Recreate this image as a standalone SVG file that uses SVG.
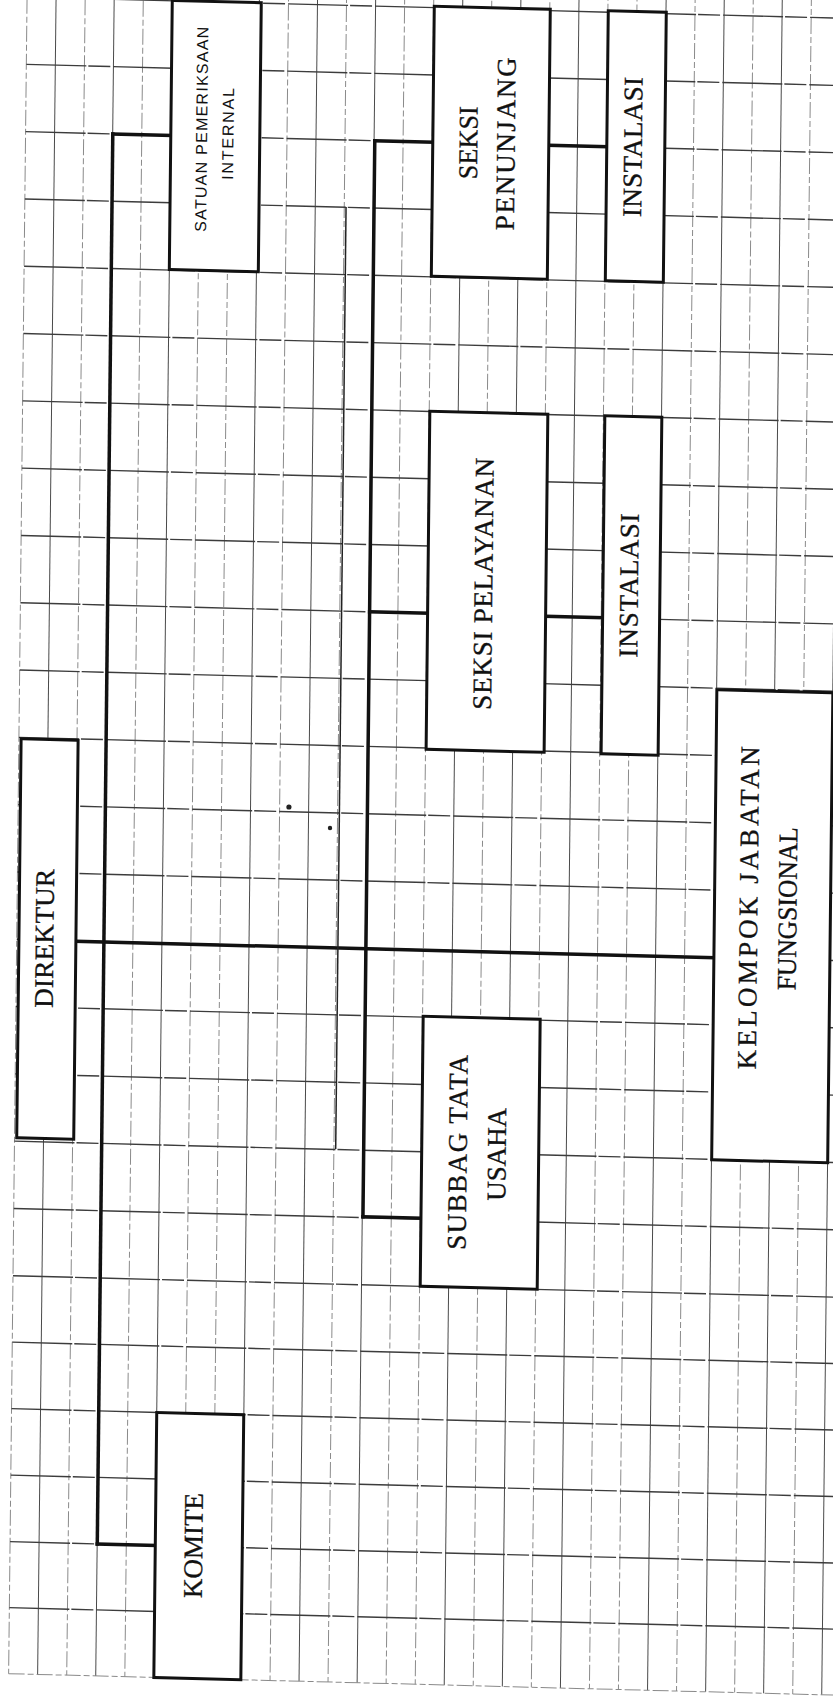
<svg xmlns="http://www.w3.org/2000/svg" width="833" height="1700" viewBox="0 0 833 1700">
<style>
.gs{stroke:#4a4a4a;stroke-width:1;fill:none}
.gd{stroke:#8a8a8a;stroke-width:1;stroke-dasharray:16 3 6 3;fill:none}
.gh{stroke:#3c3c3c;stroke-width:1.4;stroke-dasharray:60 2 22 3;fill:none}
.box{fill:#ffffff;stroke:#111;stroke-width:3}
.con{stroke:#111;stroke-width:3.5;fill:none;stroke-linecap:square}
.thin{stroke:#222;stroke-width:1.5;fill:none}
.lbl{font-family:"Liberation Serif","Times New Roman",serif;font-size:27px;fill:#111;stroke:#111;stroke-width:0.3;text-anchor:middle}
.lbs{font-family:"Liberation Sans",Arial,sans-serif;font-size:16px;fill:#111;text-anchor:middle}
</style>
<rect x="0" y="0" width="833" height="1700" fill="#ffffff"/>
<g transform="matrix(1,0.026,-0.011,1,9.35,-10.8)">
<g id="grid">
<g id="grid-v">
<line class="gd" x1="17.8" y1="-20" x2="17.8" y2="1684"/>
<line class="gs" x1="46.8" y1="-20" x2="46.8" y2="1684"/>
<line class="gd" x1="75.9" y1="-20" x2="75.9" y2="1684"/>
<line class="gs" x1="104.9" y1="-20" x2="104.9" y2="1684"/>
<line class="gd" x1="134" y1="-20" x2="134" y2="1684"/>
<line class="gs" x1="163" y1="-20" x2="163" y2="1684"/>
<line class="gd" x1="192" y1="-20" x2="192" y2="1684"/>
<line class="gd" x1="221.1" y1="-20" x2="221.1" y2="1684"/>
<line class="gs" x1="250.1" y1="-20" x2="250.1" y2="1684"/>
<line class="gd" x1="279.2" y1="-20" x2="279.2" y2="1684"/>
<line class="gs" x1="308.2" y1="-20" x2="308.2" y2="1684"/>
<line class="gd" x1="337.2" y1="-20" x2="337.2" y2="1684"/>
<line class="gs" x1="366.3" y1="-20" x2="366.3" y2="1684"/>
<line class="gd" x1="395.3" y1="-20" x2="395.3" y2="1684"/>
<line class="gd" x1="424.4" y1="-20" x2="424.4" y2="1684"/>
<line class="gs" x1="453.4" y1="-20" x2="453.4" y2="1684"/>
<line class="gd" x1="482.4" y1="-20" x2="482.4" y2="1684"/>
<line class="gs" x1="511.5" y1="-20" x2="511.5" y2="1684"/>
<line class="gd" x1="540.5" y1="-20" x2="540.5" y2="1684"/>
<line class="gs" x1="569.6" y1="-20" x2="569.6" y2="1684"/>
<line class="gd" x1="598.6" y1="-20" x2="598.6" y2="1684"/>
<line class="gd" x1="627.6" y1="-20" x2="627.6" y2="1684"/>
<line class="gs" x1="656.7" y1="-20" x2="656.7" y2="1684"/>
<line class="gd" x1="685.7" y1="-20" x2="685.7" y2="1684"/>
<line class="gs" x1="714.8" y1="-20" x2="714.8" y2="1684"/>
<line class="gd" x1="743.8" y1="-20" x2="743.8" y2="1684"/>
<line class="gs" x1="772.8" y1="-20" x2="772.8" y2="1684"/>
<line class="gd" x1="801.9" y1="-20" x2="801.9" y2="1684"/>
<line class="gs" x1="830.9" y1="-20" x2="830.9" y2="1684"/>
</g>
<g id="grid-h">
<line class="gh" x1="17.8" y1="7.4" x2="850" y2="7.4"/>
<line class="gh" x1="17.8" y1="74.7" x2="850" y2="74.7"/>
<line class="gh" x1="17.8" y1="142" x2="850" y2="142"/>
<line class="gh" x1="17.8" y1="209.3" x2="850" y2="209.3"/>
<line class="gh" x1="17.8" y1="276.6" x2="850" y2="276.6"/>
<line class="gh" x1="17.8" y1="343.9" x2="850" y2="343.9"/>
<line class="gh" x1="17.8" y1="411.2" x2="850" y2="411.2"/>
<line class="gh" x1="17.8" y1="478.5" x2="850" y2="478.5"/>
<line class="gh" x1="17.8" y1="545.8" x2="850" y2="545.8"/>
<line class="gh" x1="17.8" y1="613.1" x2="850" y2="613.1"/>
<line class="gh" x1="17.8" y1="680.4" x2="850" y2="680.4"/>
<line class="gh" x1="17.8" y1="747.7" x2="850" y2="747.7"/>
<line class="gh" x1="17.8" y1="815" x2="850" y2="815"/>
<line class="gh" x1="17.8" y1="882.3" x2="850" y2="882.3"/>
<line class="gh" x1="17.8" y1="949.6" x2="850" y2="949.6"/>
<line class="gh" x1="17.8" y1="1016.9" x2="850" y2="1016.9"/>
<line class="gh" x1="17.8" y1="1084.2" x2="850" y2="1084.2"/>
<line class="gh" x1="17.8" y1="1151.5" x2="850" y2="1151.5"/>
<line class="gh" x1="17.8" y1="1218.8" x2="850" y2="1218.8"/>
<line class="gh" x1="17.8" y1="1286.1" x2="850" y2="1286.1"/>
<line class="gh" x1="17.8" y1="1352.5" x2="850" y2="1352.5"/>
<line class="gh" x1="17.8" y1="1419" x2="850" y2="1419"/>
<line class="gh" x1="17.8" y1="1485.5" x2="850" y2="1485.5"/>
<line class="gh" x1="17.8" y1="1552" x2="850" y2="1552"/>
<line class="gh" x1="17.8" y1="1618" x2="850" y2="1618"/>
<line class="gd" x1="17.8" y1="1684" x2="850" y2="1684"/>
</g>
<circle cx="288.5" cy="810.3" r="2.6" fill="#222"/>
<circle cx="329.8" cy="830.3" r="2.2" fill="#222"/>
</g>
<g id="connectors">
<line class="con" x1="105" y1="142" x2="105" y2="1552"/>
<line class="con" x1="105" y1="142" x2="163" y2="142"/>
<line class="con" x1="105" y1="1552" x2="163" y2="1552"/>
<line class="con" x1="367" y1="142" x2="367" y2="1218"/>
<line class="con" x1="367" y1="142" x2="425" y2="142"/>
<line class="con" x1="367" y1="613" x2="425" y2="613"/>
<line class="con" x1="367" y1="1218" x2="425" y2="1218"/>
<line class="con" x1="541" y1="142" x2="599" y2="142"/>
<line class="con" x1="543" y1="613" x2="600" y2="613"/>
<line class="con" x1="77" y1="950" x2="715" y2="950"/>
<line class="thin" x1="339" y1="209" x2="339" y2="1151"/>
</g>
<g id="satuan">
<rect class="box" x="163" y="7" width="89" height="269"/>
<text class="lbs" transform="translate(199.3,135) rotate(-90)" textLength="205" lengthAdjust="spacing">SATUAN PEMERIKSAAN</text>
<text class="lbs" transform="translate(225.7,139) rotate(-90)" textLength="92" lengthAdjust="spacing">INTERNAL</text>
</g>
<g id="seksi-penunjang">
<rect class="box" x="425" y="6" width="116" height="270"/>
<text class="lbl" transform="translate(469.5,141.5) rotate(-90)" textLength="73" lengthAdjust="spacingAndGlyphs">SEKSI</text>
<text class="lbl" transform="translate(507,141.5) rotate(-90)" textLength="173" lengthAdjust="spacing">PENUNJANG</text>
</g>
<g id="instalasi-1">
<rect class="box" x="599" y="6" width="58" height="270"/>
<text class="lbl" transform="translate(634,141.5) rotate(-90)" textLength="140" lengthAdjust="spacing">INSTALASI</text>
</g>
<g id="seksi-pelayanan">
<rect class="box" x="425" y="411" width="118" height="338"/>
<text class="lbl" transform="translate(489.4,582) rotate(-90)" textLength="252" lengthAdjust="spacing">SEKSI PELAYANAN</text>
</g>
<g id="instalasi-2">
<rect class="box" x="600" y="411" width="57" height="338"/>
<text class="lbl" transform="translate(635,580) rotate(-90)" textLength="144" lengthAdjust="spacing">INSTALASI</text>
</g>
<g id="direktur">
<rect class="box" x="20" y="749" width="57" height="399"/>
<text class="lbl" transform="translate(54.5,948) rotate(-90)" textLength="139" lengthAdjust="spacing">DIREKTUR</text>
</g>
<g id="kelompok">
<rect class="box" x="715" y="682" width="116" height="470"/>
<text class="lbl" transform="translate(758,899) rotate(-90)" textLength="323" lengthAdjust="spacing">KELOMPOK JABATAN</text>
<text class="lbl" transform="translate(797,899) rotate(-90)" textLength="163" lengthAdjust="spacingAndGlyphs">FUNGSIONAL</text>
</g>
<g id="subbag">
<rect class="box" x="425" y="1016" width="117" height="270"/>
<text class="lbl" transform="translate(470,1151) rotate(-90)" textLength="195" lengthAdjust="spacing">SUBBAG TATA</text>
<text class="lbl" transform="translate(509,1152) rotate(-90)" textLength="93" lengthAdjust="spacing">USAHA</text>
</g>
<g id="komite">
<rect class="box" x="163" y="1419" width="87" height="265"/>
<text class="lbl" transform="translate(210,1551) rotate(-90)" textLength="105" lengthAdjust="spacing">KOMITE</text>
</g>
</g>
</svg>
